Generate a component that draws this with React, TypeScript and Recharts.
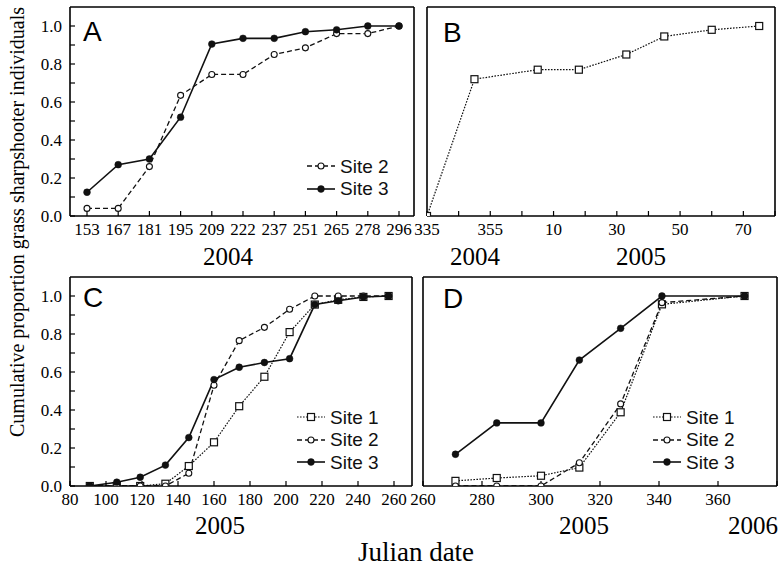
import React from 'react'
import { LineChart, Line, XAxis, YAxis, Legend } from 'recharts'

const serif = '"Liberation Serif", "Times New Roman", serif'
const sans = '"Liberation Sans", Arial, sans-serif'
const ink = '#111'

// A: 2004 sampling dates (shown as evenly spaced categories)
const aDays = ['153', '167', '181', '195', '209', '222', '237', '251', '265', '278', '296']
const aSite2 = [0.04, 0.04, 0.26, 0.635, 0.745, 0.745, 0.85, 0.885, 0.96, 0.96, 1.0]
const aSite3 = [0.125, 0.27, 0.3, 0.52, 0.905, 0.935, 0.935, 0.97, 0.98, 1.0, 1.0]

// B: winter 2004-2005, day counted on from 2004 (375 = day 10 of 2005)
const bDays = [335, 350, 370, 383, 398, 410, 425, 440]
const bSite1 = [0, 0.72, 0.77, 0.77, 0.85, 0.945, 0.98, 1.0]
const bTicks = [335, 345, 355, 365, 375, 385, 395, 405, 415, 425, 435, 445]
const bTickValues = [335, 355, 375, 395, 415, 435]
const bTickText = ['335', '355', '10', '30', '50', '70']

// C: 2005
const cDays = [91, 106, 119, 133, 146, 160, 174, 188, 202, 216, 229, 243, 257]
const cSite1 = [0, 0, 0, 0.012, 0.105, 0.23, 0.42, 0.575, 0.81, 0.955, 0.98, 0.995, 1.0]
const cSite2 = [0, 0, 0, 0, 0.067, 0.53, 0.765, 0.835, 0.93, 1.0, 1.0, 1.0, 1.0]
const cSite3 = [0, 0.02, 0.046, 0.11, 0.255, 0.56, 0.625, 0.65, 0.67, 0.955, 0.975, 0.995, 1.0]
const cTicks = [80, 100, 120, 140, 160, 180, 200, 220, 240, 260]

// D: autumn 2005
const dDays = [271, 285, 300, 313, 327, 341, 369]
const dSite1 = [0.027, 0.042, 0.054, 0.097, 0.388, 0.956, 1.0]
const dSite2 = [0, 0, 0, 0.122, 0.432, 0.965, 1.0]
const dSite3 = [0.167, 0.332, 0.332, 0.663, 0.83, 1.0, 1.0]
const dTicks = [260, 280, 300, 320, 340, 360, 380]

const yTicks = [0, 0.1, 0.2, 0.3, 0.4, 0.5, 0.6, 0.7, 0.8, 0.9, 1.0]
const yLabel = (v: number) => (Math.round(v * 10) % 2 === 0 ? v.toFixed(1) : '')

const aData = aDays.map((day, i) => ({ day, s2: aSite2[i], s3: aSite3[i] }))
const bData = bDays.map((day, i) => ({ day, s1: bSite1[i] }))
const cData = cDays.map((day, i) => ({ day, s1: cSite1[i], s2: cSite2[i], s3: cSite3[i] }))
const dData = dDays.map((day, i) => ({ day, s1: dSite1[i], s2: dSite2[i], s3: dSite3[i] }))

type Kind = 'square' | 'open' | 'filled'
const siteStyles: Record<string, { dash?: string; kind: Kind; width: number }> = {
  'Site 1': { dash: '1.6 1.4', kind: 'square', width: 1.2 },
  'Site 2': { dash: '5 3', kind: 'open', width: 1.3 },
  'Site 3': { dash: undefined, kind: 'filled', width: 1.6 },
}

const Marker = ({ cx, cy, kind }: { cx?: number; cy?: number; kind: Kind }) => {
  if (cx == null || cy == null) return null
  if (kind === 'square')
    return <rect x={cx - 3.5} y={cy - 3.5} width={7} height={7} fill='#fff' stroke={ink} strokeWidth={1.2} />
  if (kind === 'open')
    return <circle cx={cx} cy={cy} r={3} fill='#fff' stroke={ink} strokeWidth={1.1} />
  return <circle cx={cx} cy={cy} r={3.4} fill={ink} stroke={ink} strokeWidth={0.5} />
}

const siteLine = (name: string, key: string) => {
  const s = siteStyles[name]
  return (
    <Line
      key={key}
      type='linear'
      dataKey={key}
      name={name}
      stroke={ink}
      strokeWidth={s.width}
      strokeDasharray={s.dash}
      isAnimationActive={false}
      activeDot={false}
      dot={(p: any) => <Marker key={`${key}-${p.index}`} cx={p.cx} cy={p.cy} kind={s.kind} />}
    />
  )
}

const LegendBox = ({ payload }: any) => (
  <div style={{ fontFamily: sans, fontSize: 19, color: ink, lineHeight: 1 }}>
    {(payload || []).map((entry: any) => {
      const s = siteStyles[entry.value]
      return (
        <div key={entry.value} style={{ display: 'flex', alignItems: 'center', height: 22.5 }}>
          <svg width={30} height={12} style={{ marginRight: 4 }}>
            <line x1={1} x2={29} y1={6} y2={6} stroke={ink} strokeWidth={s.width} strokeDasharray={s.dash} />
            <Marker cx={15} cy={6} kind={s.kind} />
          </svg>
          <span>{entry.value}</span>
        </div>
      )
    })}
  </div>
)

// tick labels in the serif face of the figure
const serifTick = (fmt: (v: any) => string, side: 'left' | 'bottom') => (p: any) => (
  <text
    key={`${side}-${p.index}`}
    x={p.x}
    y={p.y}
    dy={side === 'left' ? '0.34em' : '0.74em'}
    textAnchor={side === 'left' ? 'end' : 'middle'}
    style={{ fontFamily: serif, fontSize: 17, fill: '#000' }}
  >
    {fmt(p.payload.value)}
  </text>
)

const axisLine = { stroke: '#000', strokeWidth: 1.6 }
const tickLine = { stroke: '#000', strokeWidth: 1.2 }

// y axes: labelled left axis plus a mirrored right one that closes the frame
const yAxes = (labels: boolean, width: number) => [
  <YAxis
    key='yl'
    type='number'
    domain={[0, 1.1]}
    ticks={yTicks}
    interval={0}
    width={width}
    tick={labels ? serifTick(yLabel, 'left') : false}
    tickSize={-5}
    tickMargin={13}
    axisLine={axisLine}
    tickLine={tickLine}
    allowDataOverflow
  />,
  <YAxis
    key='yr'
    yAxisId='right'
    orientation='right'
    type='number'
    domain={[0, 1.1]}
    ticks={yTicks}
    interval={0}
    width={1}
    tick={false}
    tickSize={-5}
    axisLine={axisLine}
    tickLine={tickLine}
    allowDataOverflow
  />,
]

const numX = (domain: number[], ticks: number[], fmt: (v: number) => string) => [
  <XAxis
    key='xb'
    type='number'
    dataKey='day'
    domain={domain}
    ticks={ticks}
    interval={0}
    height={29}
    tick={serifTick(fmt, 'bottom')}
    tickSize={-5}
    tickMargin={11}
    axisLine={axisLine}
    tickLine={tickLine}
    allowDataOverflow
  />,
  <XAxis
    key='xt'
    xAxisId='top'
    orientation='top'
    type='number'
    dataKey='day'
    domain={domain}
    ticks={ticks}
    interval={0}
    height={1}
    tick={false}
    tickSize={-5}
    axisLine={axisLine}
    tickLine={tickLine}
    allowDataOverflow
  />,
]

const bFormat = (v: number) => {
  const i = bTickValues.indexOf(v)
  return i < 0 ? '' : bTickText[i]
}

const box = (left: number, top: number): React.CSSProperties => ({ position: 'absolute', left, top })

export default function App() {
  return (
    <div
      style={{
        position: 'absolute', left: 0, top: 0, width: 779, height: 568,
        background: '#fff', overflow: 'hidden', fontFamily: serif,
      }}
    >
      <div style={box(0, 0)}>
        <LineChart width={420} height={245} data={aData} margin={{ top: 6, right: 5, bottom: 0, left: 0 }}>
          <XAxis
            type='category'
            dataKey='day'
            padding={{ left: 17, right: 15 }}
            interval={0}
            height={29}
            tick={serifTick((v) => String(v), 'bottom')}
            tickSize={-5}
            tickMargin={11}
            axisLine={axisLine}
            tickLine={tickLine}
          />
          <XAxis
            xAxisId='top'
            orientation='top'
            type='category'
            dataKey='day'
            padding={{ left: 17, right: 15 }}
            interval={0}
            height={1}
            tick={false}
            tickSize={-5}
            axisLine={axisLine}
            tickLine={tickLine}
          />
          {yAxes(true, 70)}
          {siteLine('Site 2', 's2')}
          {siteLine('Site 3', 's3')}
          <Legend
            layout='vertical'
            align='center'
            verticalAlign='middle'
            content={<LegendBox />}
            wrapperStyle={{ left: 306, top: 155, width: 100, height: 46 }}
          />
        </LineChart>
      </div>

      <div style={box(400, 0)}>
        <LineChart width={379} height={245} data={bData} margin={{ top: 6, right: 3, bottom: 0, left: 0 }}>
          {numX([335, 445], bTicks, bFormat)}
          {yAxes(false, 27)}
          {siteLine('Site 1', 's1')}
        </LineChart>
      </div>

      <div style={box(0, 270)}>
        <LineChart width={420} height={245} data={cData} margin={{ top: 6, right: 7, bottom: 0, left: 0 }}>
          {numX([80, 270], cTicks, (v) => String(v))}
          {yAxes(true, 70)}
          {siteLine('Site 1', 's1')}
          {siteLine('Site 2', 's2')}
          {siteLine('Site 3', 's3')}
          <Legend
            layout='vertical'
            align='center'
            verticalAlign='middle'
            content={<LegendBox />}
            wrapperStyle={{ left: 296, top: 136, width: 110, height: 68 }}
          />
        </LineChart>
      </div>

      <div style={box(400, 270)}>
        <LineChart width={379} height={245} data={dData} margin={{ top: 6, right: 1, bottom: 0, left: 0 }}>
          {numX([260, 380], dTicks, (v) => (v === 380 ? '' : String(v)))}
          {yAxes(false, 23)}
          {siteLine('Site 1', 's1')}
          {siteLine('Site 2', 's2')}
          {siteLine('Site 3', 's3')}
          <Legend
            layout='vertical'
            align='center'
            verticalAlign='middle'
            content={<LegendBox />}
            wrapperStyle={{ left: 252, top: 136, width: 110, height: 68 }}
          />
        </LineChart>
      </div>

      <svg width={779} height={568} style={{ position: 'absolute', left: 0, top: 0, pointerEvents: 'none' }}>
        <g fontFamily={sans} fontSize={28} fill='#000'>
          <text x={83} y={41}>A</text>
          <text x={443} y={42}>B</text>
          <text x={83} y={307}>C</text>
          <text x={443} y={308}>D</text>
        </g>
        <g fontFamily={serif} fontSize={25} fill='#000' textAnchor='middle'>
          <text x={228} y={265}>2004</text>
          <text x={475} y={265}>2004</text>
          <text x={641} y={265}>2005</text>
          <text x={220} y={534}>2005</text>
          <text x={584} y={534}>2005</text>
          <text x={753} y={534}>2006</text>
        </g>
        <text x={416} y={561} fontFamily={serif} fontSize={27} textAnchor='middle'>Julian date</text>
        <text
          transform='translate(24 222) rotate(-90)'
          fontFamily={serif}
          fontSize={20}
          textAnchor='middle'
        >
          Cumulative proportion grass sharpshooter individuals
        </text>
      </svg>
    </div>
  )
}
